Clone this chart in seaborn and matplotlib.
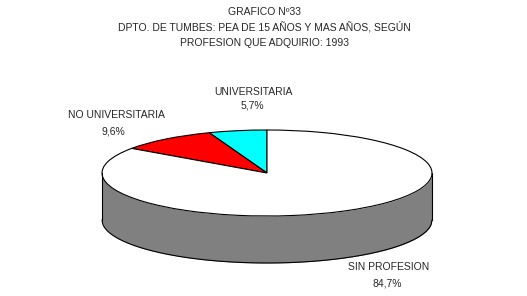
import numpy as np
import matplotlib
matplotlib.use("Agg")
import matplotlib.pyplot as plt
import seaborn as sns

categories = ["UNIVERSITARIA", "NO UNIVERSITARIA", "SIN PROFESION"]
values = [5.7, 9.6, 84.7]
colors = ["#00FFFF", "#FF0000", "#FFFFFF"]
title_lines = ["GRAFICO Nº33",
               "DPTO. DE TUMBES: PEA DE 15 AÑOS Y MAS AÑOS, SEGÚN",
               "PROFESION QUE ADQUIRIO: 1993"]

sns.set_theme(style="white")
plt.rcParams['font.family'] = ['Liberation Sans', 'DejaVu Sans']

W, H = 527, 296
fig = plt.figure(figsize=(W / 100, H / 100), dpi=100)
fig.patch.set_facecolor("white")

# ellipse geometry in pixels
cx, cy = 267, 173
a_px, b_px, depth_px = 165, 43, 47
# axes in pixel coords
x0p, x1p = cx - a_px * 1.05, cx + a_px * 1.05
y_top_p, y_bot_p = 120, 272
ax = fig.add_axes([x0p / W, 1 - y_bot_p / H, (x1p - x0p) / W, (y_bot_p - y_top_p) / H])
d = depth_px / b_px

# side of the cylinder
xs = np.linspace(-1, 1, 400)
s = np.sqrt(np.clip(1 - xs ** 2, 0, None))
ax.fill_between(xs, -d - s, -s, color="#808080", lw=0)
ax.plot(xs, -d - s, color="black", lw=0.8)
ax.plot([-1, -1], [0, -d], color="black", lw=0.8)
ax.plot([1, 1], [0, -d], color="black", lw=0.8)

# top face
ax.pie(values, colors=colors, startangle=90, counterclock=True,
       wedgeprops=dict(edgecolor="black", linewidth=0.8))
ax.set_aspect("auto")
ax.set_xlim(-1.05, 1.05)
ax.set_ylim(-(y_bot_p - cy) / b_px, (cy - y_top_p) / b_px)
ax.axis("off")

def fmt(v):
    return f"{v:.1f}".replace(".", ",") + "%"

label_pos = [(253, 92, 252, 106), (116, 115, 113, 131), (389, 267, 387, 283)]
for cat, v, (lx, ly, px, py) in zip(categories, values, label_pos):
    fig.text(lx / W, 1 - ly / H, cat, ha="center", va="center", fontsize=7.5)
    fig.text(px / W, 1 - py / H, fmt(v), ha="center", va="center", fontsize=7.5)

for t, y in zip(title_lines, [12, 27, 43]):
    fig.text(264 / W, 1 - y / H, t, ha="center", va="center", fontsize=7.5)

fig.savefig("out.png", dpi=100, facecolor="white")
